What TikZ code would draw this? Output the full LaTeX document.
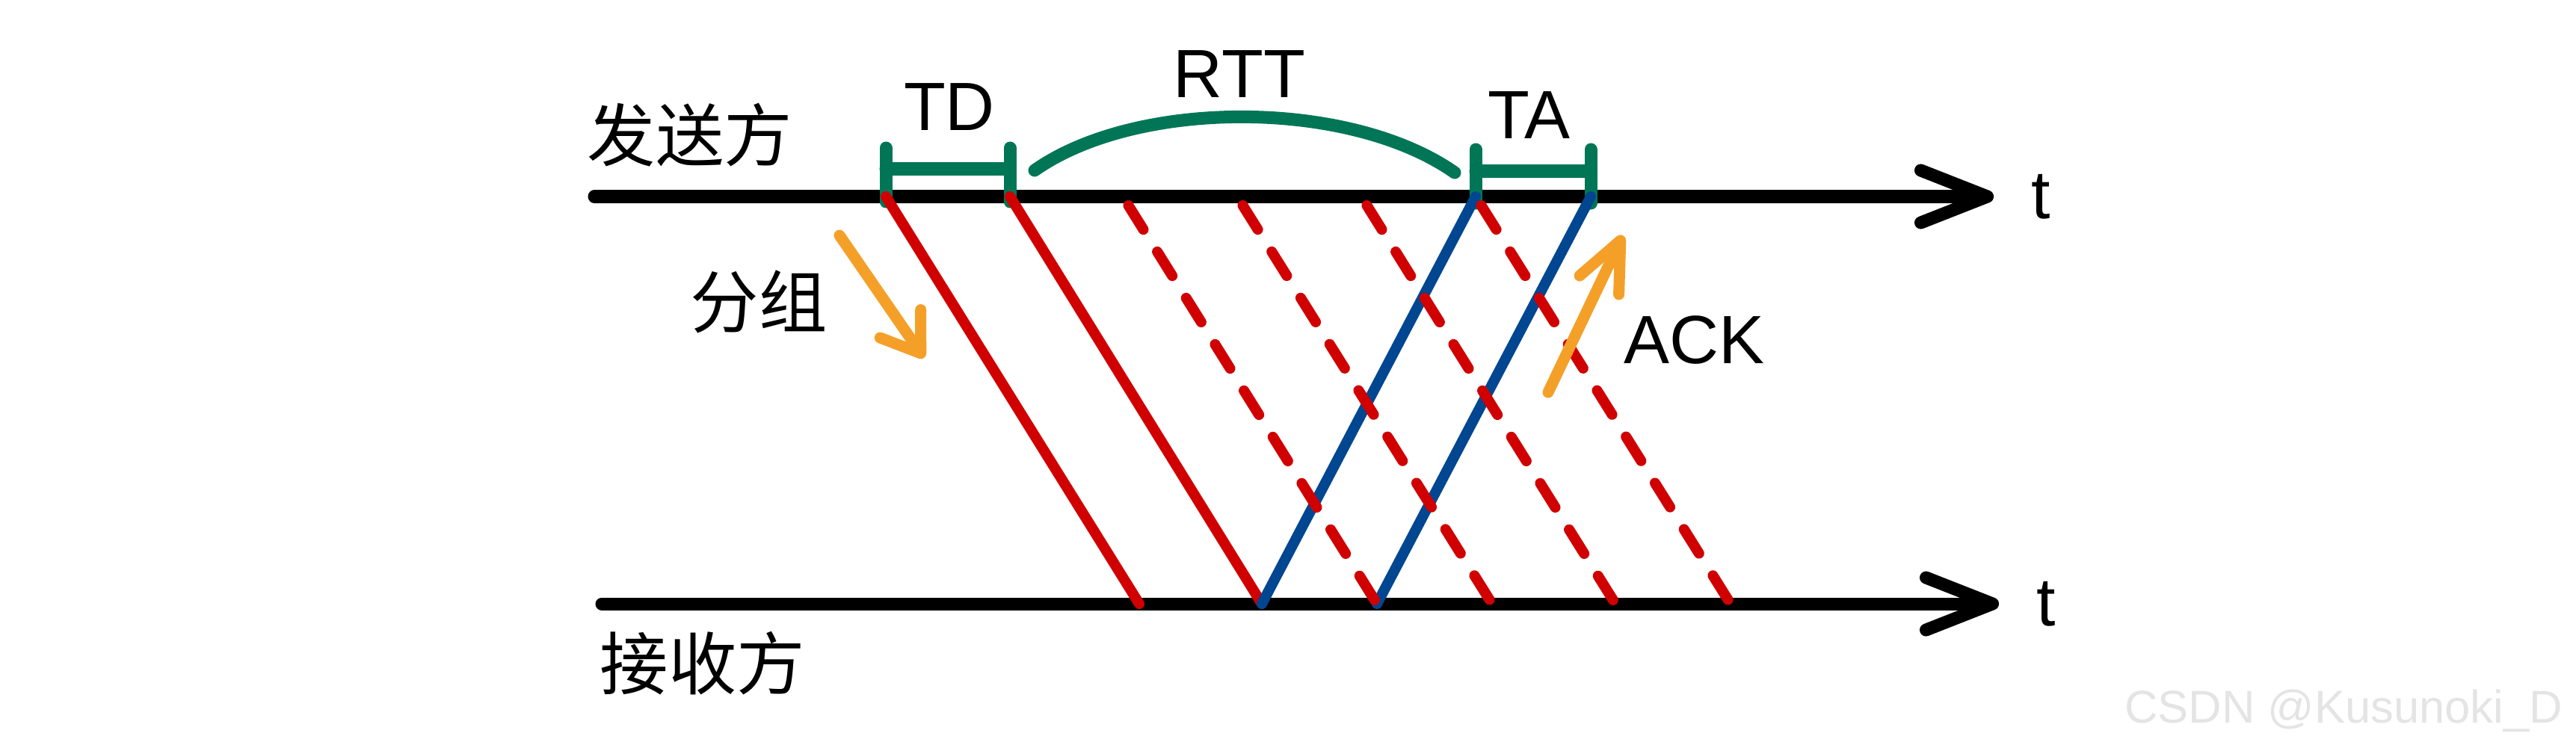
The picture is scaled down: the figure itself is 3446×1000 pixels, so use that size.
\documentclass[tikz,border=0pt]{standalone}
\usepackage{fontspec}
\setmainfont{Liberation Sans}
\newfontfamily\cjk{Noto Sans CJK SC}
\usepackage{tikz}
\usetikzlibrary{arrows.meta,positioning}
\definecolor{pktred}{RGB}{208,0,0}
\definecolor{ackblue}{RGB}{0,70,145}
\definecolor{spangreen}{RGB}{0,118,86}
\definecolor{noteorange}{RGB}{244,160,40}
\definecolor{markgray}{RGB}{228,228,228}

\tikzset{
  timeaxis/.style={line width=0.17cm, line cap=round, -{Straight Barb[length=0.89cm,width=0.7cm,round]}},
  pkt/.style={line width=0.14cm, pktred, line cap=round},
  pktlost/.style={pkt, dash pattern=on 0.38cm off 0.35cm, dash phase=0.59cm},
  ack/.style={line width=0.14cm, ackblue, line cap=round},
  span/.style={line width=0.17cm, spangreen, line cap=round},
  note/.style={line width=0.15cm, noteorange, line cap=round},
  lbl/.style={inner sep=0pt, font=\fontsize{26}{30}\selectfont},
}

\begin{document}
\begin{tikzpicture}[x=0.01cm, y=-0.01cm]
\useasboundingbox (0,0) rectangle (3446,1000);
% time axes
\coordinate (sA) at (795,263);
\coordinate (sB) at (2667,263);
\coordinate (rA) at (805,808);
\coordinate (rB) at (2674,808);
% send instants on the sender axis
\coordinate (s1) at (1185,263);
\coordinate (s2) at (1351,263);
\coordinate (s3) at (1502,263);
\coordinate (s4) at (1655,263);
\coordinate (s5) at (1821,263);
\coordinate (s6) at (1974,263);
\coordinate (s7) at (2128,263);
% arrival instants on the receiver axis
\coordinate (r1) at (1524,808);
\coordinate (r2) at (1688,808);
\coordinate (r3) at (1842,808);
\coordinate (r4) at (1996,808);
\coordinate (r5) at (2161,808);
\coordinate (r6) at (2315,808);

\draw[timeaxis] (sA) -- (sB);
\draw[timeaxis] (rA) -- (rB);
\node[lbl, right=0.5cm of sB] (tsnd) {t};
\node[lbl, right=0.5cm of rB] (trcv) {t};
\node[lbl] (snd) at (923,181) {\cjk 发送方};
\node[lbl] (rcv) at (940,888) {\cjk 接收方};

% TD and TA brackets
\draw[span] (s1) ++(0,7) -- ++(0,-72);
\draw[span] (s2) ++(0,7) -- ++(0,-72);
\draw[span] (s1) ++(0,-37) -- ++(166,0);
\draw[span] (s6) ++(0,9) -- ++(0,-72);
\draw[span] (s7) ++(0,9) -- ++(0,-72);
\draw[span] (s6) ++(0,-34) -- ++(154,0);
\node[lbl] (td) at (1270,143) {TD};
\node[lbl] (ta) at (2045,154) {TA};
% RTT arc
\draw[span] (1384,228) .. controls (1520,132) and (1805,132) .. (1946,231);
\node[lbl] (rtt) at (1658,99) {RTT};

% packets
\draw[pkt] (s1) -- (r1);
\draw[pkt] (s2) -- (r2);
% acknowledgements
\draw[ack] (r2) -- (s6);
\draw[ack] (r3) -- (s7);
% packets in flight
\draw[pktlost] (s3) -- (r3);
\draw[pktlost] (s4) -- (r4);
\draw[pktlost] (s5) -- (r5);
\draw[pktlost] (s6) -- (r6);

% notes
\coordinate (pktFrom) at (1123,315);
\coordinate (pktTo) at (1236,479);
\coordinate (ackFrom) at (2071,525);
\coordinate (ackTo) at (2171,315);
\draw[note, -{Straight Barb[length=0.48cm,width=0.66cm,round]}] (pktFrom) -- (pktTo);
\draw[note, -{Straight Barb[length=0.66cm,width=0.58cm,round]}] (ackFrom) -- (ackTo);
\node[lbl] (pktlbl) at (1015,404) {\cjk 分组};
\node[lbl] (acklbl) at (2266,455) {ACK};

\node[anchor=base, text=markgray, font=\fontsize{17.5}{20}\selectfont] (mark) at (3135,967) {CSDN @Kusunoki\_D};
\end{tikzpicture}
\end{document}
